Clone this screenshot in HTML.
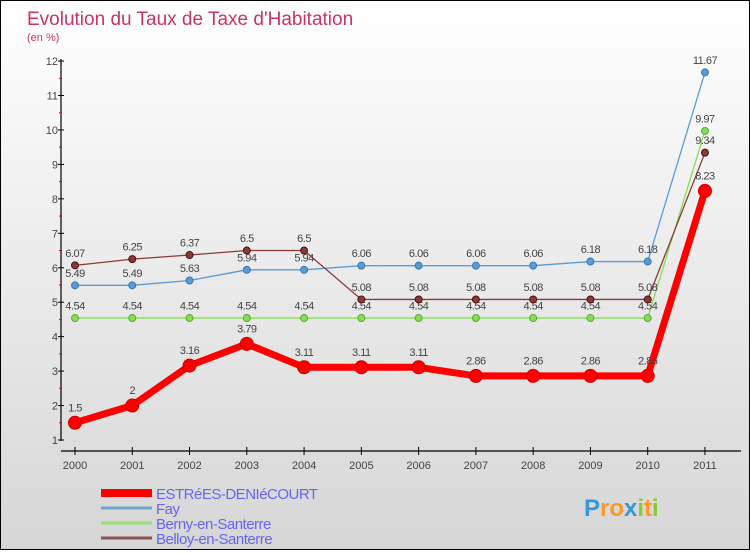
<!DOCTYPE html>
<html><head><meta charset="utf-8"><style>
html,body{margin:0;padding:0}
body{width:750px;height:550px;overflow:hidden;font-family:"Liberation Sans",sans-serif}
#wrap{position:relative;width:748px;height:548px;border:1px solid #000;background:linear-gradient(#ffffff,#d6d6d6)}
</style></head><body>
<div id="wrap">
<svg id="chart" width="748" height="548" font-family="Liberation Sans, sans-serif"></svg>
</div>
<script>
const years=[2000,2001,2002,2003,2004,2005,2006,2007,2008,2009,2010,2011];
const yTicks=[1,2,3,4,5,6,7,8,9,10,11,12];
const estrees=[1.5,2,3.16,3.79,3.11,3.11,3.11,2.86,2.86,2.86,2.86,8.23];
const fay=[5.49,5.49,5.63,5.94,5.94,6.06,6.06,6.06,6.06,6.18,6.18,11.67];
const berny=[4.54,4.54,4.54,4.54,4.54,4.54,4.54,4.54,4.54,4.54,4.54,9.97];
const belloy=[6.07,6.25,6.37,6.5,6.5,5.08,5.08,5.08,5.08,5.08,5.08,9.34];
const seriesNames=["ESTRéES-DENIéCOURT","Fay","Berny-en-Santerre","Belloy-en-Santerre"];

const svg=document.getElementById('chart');
const NS='http://www.w3.org/2000/svg';
function X(i){return 74+i*57.27;}
function Y(v){return 439-(v-1)*34.45;}
function mk(tag,attrs,parent){const e=document.createElementNS(NS,tag);for(const k in attrs)e.setAttribute(k,attrs[k]);(parent||svg).appendChild(e);return e;}
function txt(s,attrs){const e=mk('text',attrs);e.textContent=s;return e;}

let t=txt('Evolution du Taux de Taxe d\'Habitation',{x:26,y:24,'font-size':19,fill:'#c8336a'});


t=txt('(en %)',{x:26,y:40,'font-size':11,fill:'#c8336a'});



// axes
let a=mk('line',{x1:60,y1:58,x2:60,y2:440,stroke:'#000','stroke-width':1.2});


a=mk('line',{x1:60,y1:450,x2:740,y2:450,stroke:'#000','stroke-width':1.2});


yTicks.forEach(v=>{
  mk('line',{x1:57,y1:Y(v),x2:63,y2:Y(v),stroke:'#000'});
  if(v<12) mk('line',{x1:58,y1:Y(v+0.5),x2:61,y2:Y(v+0.5),stroke:'#e00'});
  const l=txt(String(v),{x:57,y:Y(v)+4,'font-size':11,fill:'#444','text-anchor':'end'});
  
  
});
years.forEach((yr,i)=>{
  mk('line',{x1:X(i),y1:446,x2:X(i),y2:454,stroke:'#000'});
  const l=txt(String(yr),{x:X(i),y:468,'font-size':11,fill:'#444','text-anchor':'middle'});
  
  
});

function series(data,color,dark,w,r,name){
  const pts=data.map((v,i)=>X(i)+','+Y(v)).join(' ');
  const p=mk('polyline',{points:pts,fill:'none',stroke:color,'stroke-width':w,'stroke-linejoin':'round'});
  
  
  data.forEach((v,i)=>{
    const c=mk('circle',{cx:X(i),cy:Y(v),r:r,fill:color,stroke:dark,'stroke-width':1});
    
    
    const l=txt(String(v),{x:X(i),y:Y(v)-r-5,'font-size':11,fill:'#444','text-anchor':'middle','letter-spacing':'-0.5'});
    
    
  });
}
series(fay,'#5b9bd5','#3a78b0',1.3,3.5,'fay');
series(berny,'#88dd55','#55aa33',1.3,3.5,'berny');
series(belloy,'#8b3a3a','#4a1010',1.3,3.5,'belloy');
series(estrees,'#ff0000','#cc0000',7,6.5,'estrees');

// legend
const lcol=['#ff0000','#6fa7d0','#99dd77','#8b5555'];
const lw=[8,3,3,3];
seriesNames.forEach((n,i)=>{
  const y=492+i*15;
  const g=mk('g',{});
  
  
  mk('line',{x1:100,y1:y,x2:151,y2:y,stroke:lcol[i],'stroke-width':lw[i]},g);
  const l=mk('text',{x:155,y:y+6,'font-size':15,fill:'#6666ee','letter-spacing':'-0.5'},g);
  l.textContent=n;
});
// logo
const logo=txt('',{x:583,y:515,'font-size':24,'font-weight':'bold'});


[['P','#3399dd'],['ro','#ff9922'],['x','#3399dd'],['i','#88cc33'],['t','#ff9922'],['i','#88cc33']].forEach(([s,c])=>{
  const ts=mk('tspan',{fill:c},logo);ts.textContent=s;
});
</script>
</body></html>
